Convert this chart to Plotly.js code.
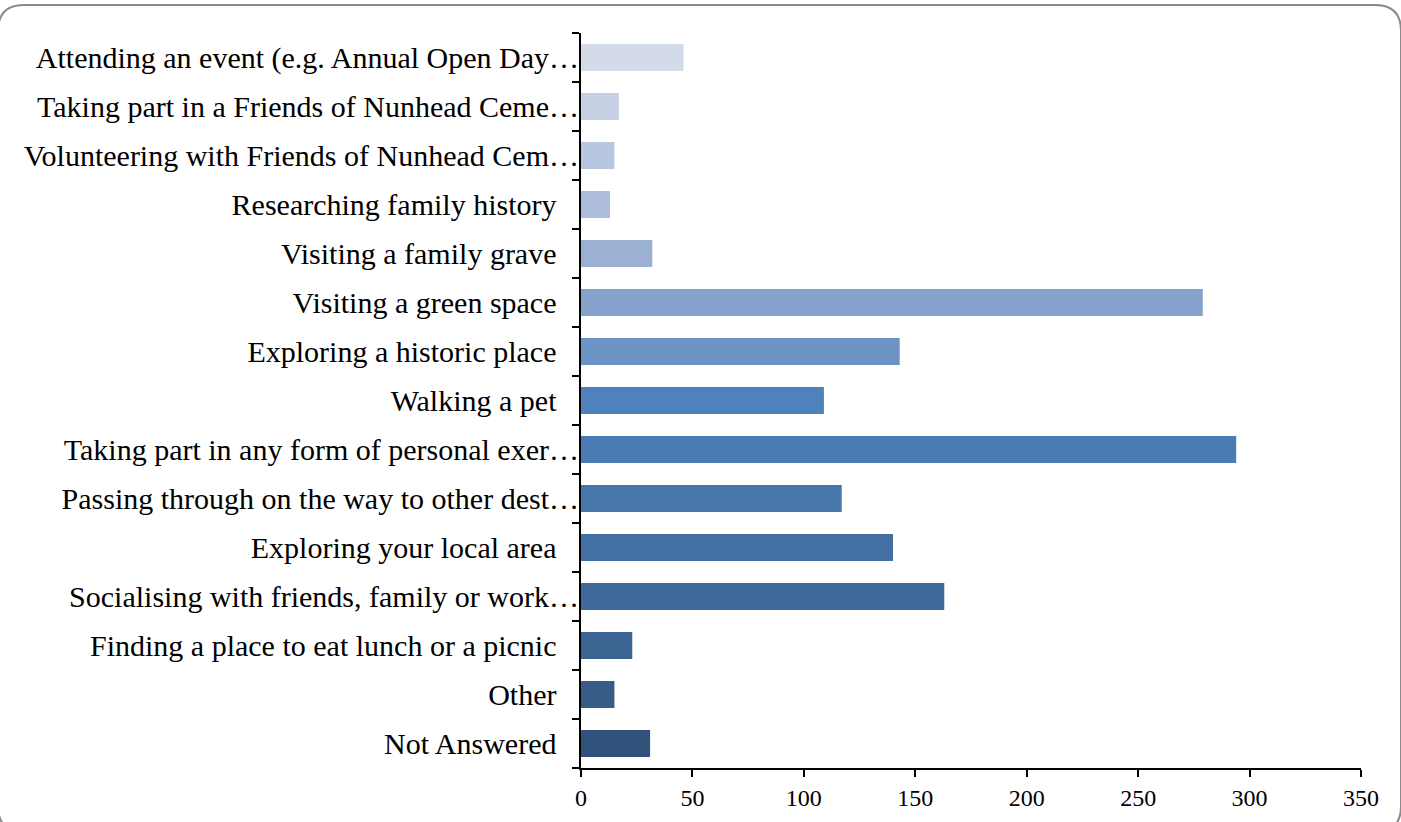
<!DOCTYPE html>
<html>
<head>
<meta charset="utf-8">
<script src="https://cdn.plot.ly/plotly-3.0.1.min.js"></script>
<style>html,body{margin:0;padding:0;background:#fff;overflow:hidden}</style>
</head>
<body>
<div id="chart" style="width:1401px;height:822px"></div>
<script>
// Categories listed bottom to top
const categories = [
  "Not Answered",
  "Other",
  "Finding a place to eat lunch or a picnic",
  "Socialising with friends, family or work…",
  "Exploring your local area",
  "Passing through on the way to other dest…",
  "Taking part in any form of personal exer…",
  "Walking a pet",
  "Exploring a historic place",
  "Visiting a green space",
  "Visiting a family grave",
  "Researching family history",
  "Volunteering with Friends of Nunhead Cem…",
  "Taking part in a Friends of Nunhead Ceme…",
  "Attending an event (e.g. Annual Open Day…"
];
const values = [31, 15, 23, 163, 140, 117, 294, 109, 143, 279, 32, 13, 15, 17, 46];
const barColors = [
  "#31527A", "#385C88", "#3C6493", "#406A9C", "#446FA3",
  "#4876AB", "#4A7BB4", "#4F81BD", "#6D92C5", "#85A1CC",
  "#9CB0D4", "#ACBCDA", "#B8C6E0", "#C5D0E3", "#D3DAE8"
];
const xTicks = [0, 50, 100, 150, 200, 250, 300, 350];

const tickText = categories.map(c => c.endsWith("…") ? c : c + "\u00A0\u00A0\u00A0");

const W = 1401, H = 822;
const m = {l: 581, r: 40, t: 33, b: 54};
const pw = W - m.l - m.r, ph = H - m.t - m.b;
const px = x => (x - m.l) / pw;
const py = y => (H - m.b - y) / ph;

// rounded frame
const x0 = -2, x1 = 1401, y0 = 5, y1 = 832, r = 26;
const framePath =
  `M ${px(x0 + r)} ${py(y0)} L ${px(x1 - r)} ${py(y0)} Q ${px(x1)} ${py(y0)} ${px(x1)} ${py(y0 + r)} ` +
  `L ${px(x1)} ${py(y1 - r)} Q ${px(x1)} ${py(y1)} ${px(x1 - r)} ${py(y1)} ` +
  `L ${px(x0 + r)} ${py(y1)} Q ${px(x0)} ${py(y1)} ${px(x0)} ${py(y1 - r)} ` +
  `L ${px(x0)} ${py(y0 + r)} Q ${px(x0)} ${py(y0)} ${px(x0 + r)} ${py(y0)} Z`;

const trace = {
  type: "bar",
  orientation: "h",
  x: values,
  y: categories,
  marker: {color: barColors, line: {width: 0}},
  hoverinfo: "x+y"
};

const layout = {
  width: W, height: H,
  margin: m,
  paper_bgcolor: "#fff",
  plot_bgcolor: "#fff",
  showlegend: false,
  bargap: 0.45,
  font: {family: "Liberation Serif, serif", color: "#000"},
  xaxis: {
    range: [0, 350],
    tickvals: xTicks,
    ticktext: xTicks.map(String),
    showgrid: false,
    zeroline: false,
    showline: true,
    linecolor: "#000",
    linewidth: 2,
    ticks: "outside",
    ticklen: 7,
    tickwidth: 2,
    tickcolor: "#000",
    ticklabelstandoff: 0,
    tickfont: {size: 24, family: "Liberation Serif, serif"}
  },
  yaxis: {
    type: "category",
    categoryorder: "array",
    categoryarray: categories,
    tickvals: categories,
    ticktext: tickText,
    tickson: "boundaries",
    showgrid: false,
    zeroline: false,
    showline: true,
    linecolor: "#000",
    linewidth: 2,
    ticks: "outside",
    ticklen: 7,
    tickwidth: 2,
    tickcolor: "#000",
    ticklabelstandoff: -6,
    tickfont: {size: 30, family: "Liberation Serif, serif"}
  },
  shapes: [{
    type: "path",
    xref: "paper", yref: "paper",
    path: framePath,
    line: {color: "#8a8a8a", width: 2},
    layer: "below"
  }]
};

Plotly.newPlot("chart", [trace], layout, {displayModeBar: false, staticPlot: true});
</script>
</body>
</html>
